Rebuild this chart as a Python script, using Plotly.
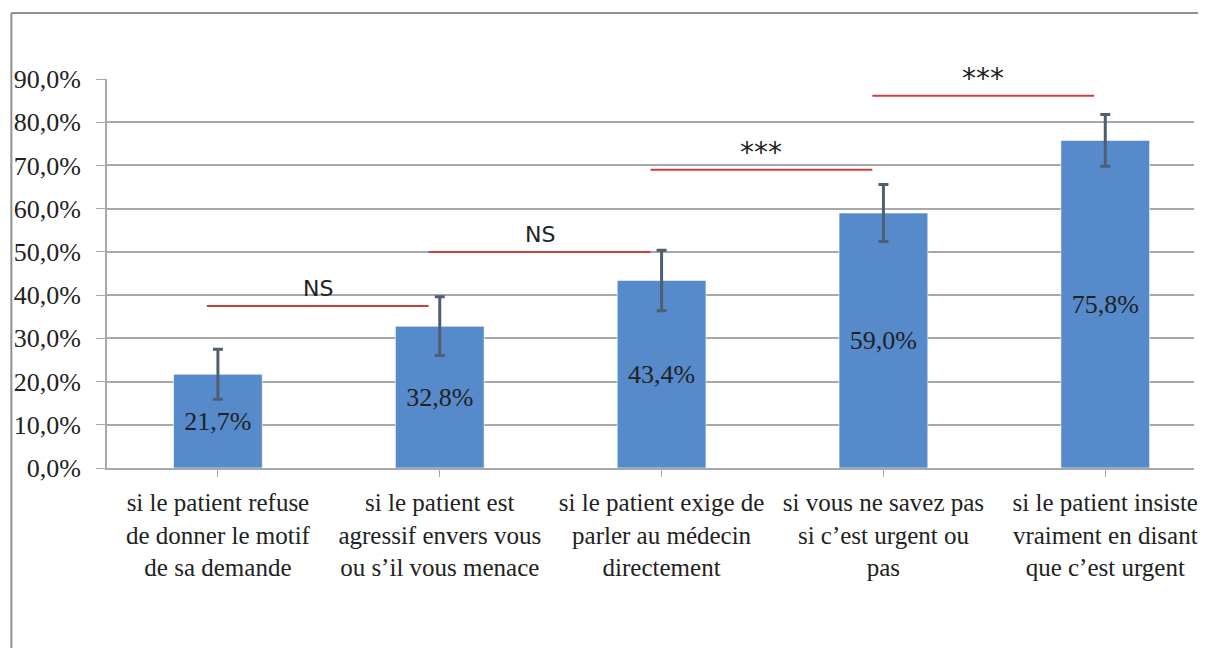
import plotly.graph_objects as go

categories = [
    "si le patient refuse<br>de donner le motif<br>de sa demande",
    "si le patient est<br>agressif envers vous<br>ou s’il vous menace",
    "si le patient exige de<br>parler au médecin<br>directement",
    "si vous ne savez pas<br>si c’est urgent ou<br>pas",
    "si le patient insiste<br>vraiment en disant<br>que c’est urgent",
]
values = [21.7, 32.8, 43.4, 59.0, 75.8]
errors = [5.8, 6.8, 7.0, 6.6, 6.0]

y_ticks = [0, 10, 20, 30, 40, 50, 60, 70, 80, 90]
y_ticktext = [f"{t:.1f}%".replace(".", ",") for t in y_ticks]

# significance brackets between neighbouring bars
sig_levels = [37.5, 50.0, 69.0, 86.1]
sig_labels = ["NS", "NS", "***", "***"]

SERIF = "Liberation Serif"
GRID = "#A6A8AB"

# page has an 8px body margin, so the figure is sized to fit inside it
W, H = 1190, 640
L, T, B = 99, 71, 180

fig = go.Figure()

fig.add_trace(go.Bar(
    x=list(range(len(values))),
    y=values,
    width=0.4,
    marker=dict(color="#568ACA", line=dict(color="rgba(255,255,255,0.6)", width=1)),
    error_y=dict(type="data", array=errors, color="#4E6070", thickness=3, width=5),
    text=[f"{v:.1f}%".replace(".", ",") for v in values],
    textposition="inside",
    insidetextanchor="middle",
    textfont=dict(family=SERIF, size=26, color="#222222"),
    hoverinfo="skip",
))

# significance lines + labels
for i, (lvl, lab) in enumerate(zip(sig_levels, sig_labels)):
    fig.add_shape(type="line", xref="x", yref="y",
                  x0=i - 0.05, x1=i + 0.95, y0=lvl, y1=lvl,
                  line=dict(color="#C9423F", width=2))
    fig.add_annotation(x=i + 0.45, y=lvl, text=lab, showarrow=False,
                       yshift=17,
                       font=dict(family="DejaVu Sans", size=22 if lab == "NS" else 28,
                                 color="#222222"))

# outer chart frame: only the left and top edges fall inside the picture
plot_w = W - L
plot_h = H - T - B
fx0 = (3 - L) / plot_w
fy1 = (plot_h + T - 5) / plot_h
frame = dict(color="#8E9093", width=2)
fig.add_shape(type="line", xref="paper", yref="paper",
              x0=fx0, x1=fx0, y0=-0.8, y1=fy1, line=frame, layer="below")
fig.add_shape(type="line", xref="paper", yref="paper",
              x0=fx0, x1=1.2, y0=fy1, y1=fy1, line=frame, layer="below")

fig.update_layout(
    width=W,
    height=H,
    margin=dict(l=L, r=0, t=T, b=B),
    paper_bgcolor="white",
    plot_bgcolor="white",
    showlegend=False,
    bargap=0.6,
    xaxis=dict(
        range=[-0.5, 4.40],
        tickmode="array",
        tickvals=list(range(len(categories))),
        ticktext=categories,
        tickson="boundaries",
        ticks="outside",
        ticklen=7,
        tickcolor=GRID,
        showline=True,
        linecolor=GRID,
        linewidth=2,
        showgrid=False,
        tickangle=0,
        ticklabeloverflow="allow",
        tickfont=dict(family=SERIF, size=25, color="#222222"),
        ticklabelstandoff=4,
    ),
    yaxis=dict(
        range=[0, 90],
        tickmode="array",
        tickvals=y_ticks,
        ticktext=y_ticktext,
        ticks="outside",
        ticklen=9,
        tickcolor=GRID,
        showline=True,
        linecolor=GRID,
        linewidth=2,
        showgrid=True,
        gridcolor=GRID,
        gridwidth=2,
        zeroline=False,
        tickfont=dict(family=SERIF, size=26, color="#222222"),
        ticklabelstandoff=10,
    ),
)

fig.write_html("out.html")
